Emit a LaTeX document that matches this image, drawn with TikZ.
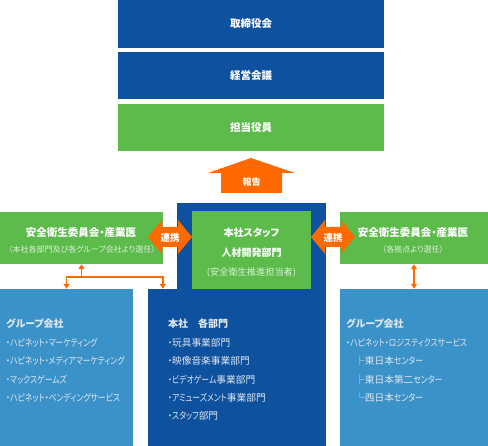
\documentclass[tikz,border=0pt]{standalone}
\usepackage{fontspec}
\setmainfont{Noto Sans CJK JP}[RawFeature=+palt]
\newfontfamily\kanafont{Noto Sans CJK JP}[RawFeature=+palt, FakeStretch=0.81]
\newcommand\kanarun[1]{{\kanafont #1}}
\usetikzlibrary{arrows.meta}
\definecolor{navy}{HTML}{0E519E}
\definecolor{leaf}{HTML}{5DBB4C}
\definecolor{sky}{HTML}{3B92C9}
\definecolor{flame}{HTML}{FF6A00}

\begin{document}
\begin{tikzpicture}[x=1pt, y=-1pt,
    tier/.style={rectangle, inner sep=0pt, minimum width=266pt, text=white,
                 font=\bfseries\fontsize{10.5}{12}\selectfont},
    panel/.style={rectangle, inner sep=0pt},
    head/.style={inner sep=0pt, text=white, font=\bfseries\fontsize{10.5}{12}\selectfont},
    note/.style={inner sep=0pt, text=white!78!leaf, font=\fontsize{8}{9}\selectfont},
    roster/.style={anchor=north west, inner sep=0pt, align=left, text=white!86!navy,
                   font=\fontsize{9.7}{18.4}\selectfont},
    link/.style={flame, line width=1.6pt, >={Triangle[width=6pt,length=5pt]}},
    badge/.style={inner sep=0pt, text=white, font=\bfseries\fontsize{9.5}{10}\selectfont}
  ]
    \useasboundingbox (0,0) rectangle (488,446);

    % management tiers
    \node[tier, fill=navy, minimum height=48pt] (board) at (251,24) {取締役会};
    \node[tier, fill=navy, minimum height=47pt] (council) at (251,75.5) {経営会議};
    \node[tier, fill=leaf, minimum height=47pt] (officer) at (251,127.5) {担当役員};

    \fill[flame] (251,158) -- (295,173) -- (282,173) -- (282,193) -- (221,193)
                 -- (221,173) -- (208,173) -- cycle;
    \node[badge, font=\bfseries\fontsize{9}{10}\selectfont] (report) at (251.5,182) {報告};

    % head office
    \node[panel, fill=navy, minimum width=149pt, minimum height=86pt] (hqframe) at (251.5,246) {};
    \node[panel, fill=navy, minimum width=178pt, minimum height=157pt] (honsha) at (237,367.5) {};
    \node[panel, fill=leaf, minimum width=119pt, minimum height=78pt] (staff) at (251.5,250) {};
    \node[head, font=\bfseries\fontsize{10}{12}\selectfont] (stafftitle) at (251.5,233) {本社スタッフ};
    \node[head, font=\bfseries\fontsize{10}{12}\selectfont] (hrdept) at (251.5,253) {人材開発部門};
    \node[note, font=\fontsize{9.2}{10}\selectfont] (promoter) at (251.5,273) {(安全衛生推進担当者)};

    % safety committees
    \node[panel, fill=leaf, minimum width=163pt, minimum height=52pt] (lsafety) at (81.5,238) {};
    \node[head] (ltitle) at (81,232) {安全衛生委員会・産業医};
    \node[note] (lnote) at (82,249.5) {（本社各部門及び各グループ会社より選任）};
    \node[panel, fill=leaf, minimum width=148pt, minimum height=52pt] (rsafety) at (414,238) {};
    \node[head] (rtitle) at (413,232) {安全衛生委員会・産業医};
    \node[note] (rnote) at (413,249.5) {（各拠点より選任）};

    \fill[flame] (148,237) -- (162,220) -- (162,227) -- (178,227) -- (178,220) -- (192,237)
                 -- (178,254) -- (178,247) -- (162,247) -- (162,254) -- cycle;
    \node[badge] (lbond) at (170,238) {連携};
    \fill[flame] (311,237) -- (325,220) -- (325,227) -- (341,227) -- (341,220) -- (355,237)
                 -- (341,254) -- (341,247) -- (325,247) -- (325,254) -- cycle;
    \node[badge] (rbond) at (333,238) {連携};

    % group companies
    \node[panel, fill=sky, minimum width=133pt, minimum height=157pt] (lgroup) at (66.5,367.5) {};
    \node[panel, fill=sky, minimum width=148pt, minimum height=157pt] (rgroup) at (414,367.5) {};

    \node[roster] (lgrouplist) at (6,319) {%
      {\bfseries\fontsize{10}{18.4}\selectfont グループ会社}\\
      \kanarun{・ハピネット・マーケティング}\\
      \kanarun{・ハピネット・メディアマーケティング}\\
      \kanarun{・マックスゲームズ}\\
      \kanarun{・ハピネット・ベンディングサービス}};
    \node[roster] (honshalist) at (168,319) {%
      {\bfseries\fontsize{10}{18.4}\selectfont 本社　各部門}\\
      \kanarun{・}玩具事業部門\\
      \kanarun{・}映像音楽事業部門\\
      \kanarun{・ビデオゲーム}事業部門\\
      \kanarun{・アミューズメント}事業部門\\
      \kanarun{・スタッフ}部門};
    \node[roster] (rgrouplist) at (346,319) {%
      {\bfseries\fontsize{10}{18.4}\selectfont グループ会社}\\
      \kanarun{・ハピネット・ロジスティクスサービス}\\
      \hspace*{9pt}├東日本\kanarun{センター}\\
      \hspace*{9pt}├東日本第二\kanarun{センター}\\
      \hspace*{9pt}└西日本\kanarun{センター}};

    % connectors
    \coordinate (lfork) at ([yshift=-13pt]lsafety.south);
    \draw[link, ->] (lfork) -- (lsafety.south);
    \draw[link, ->] (lfork) -| (lgroup.north);
    \draw[link, ->] (lfork) -| ([xshift=15pt]honsha.north west);
    \draw[link, <->] (rsafety.south) -- (rgroup.north);
\end{tikzpicture}
\end{document}
